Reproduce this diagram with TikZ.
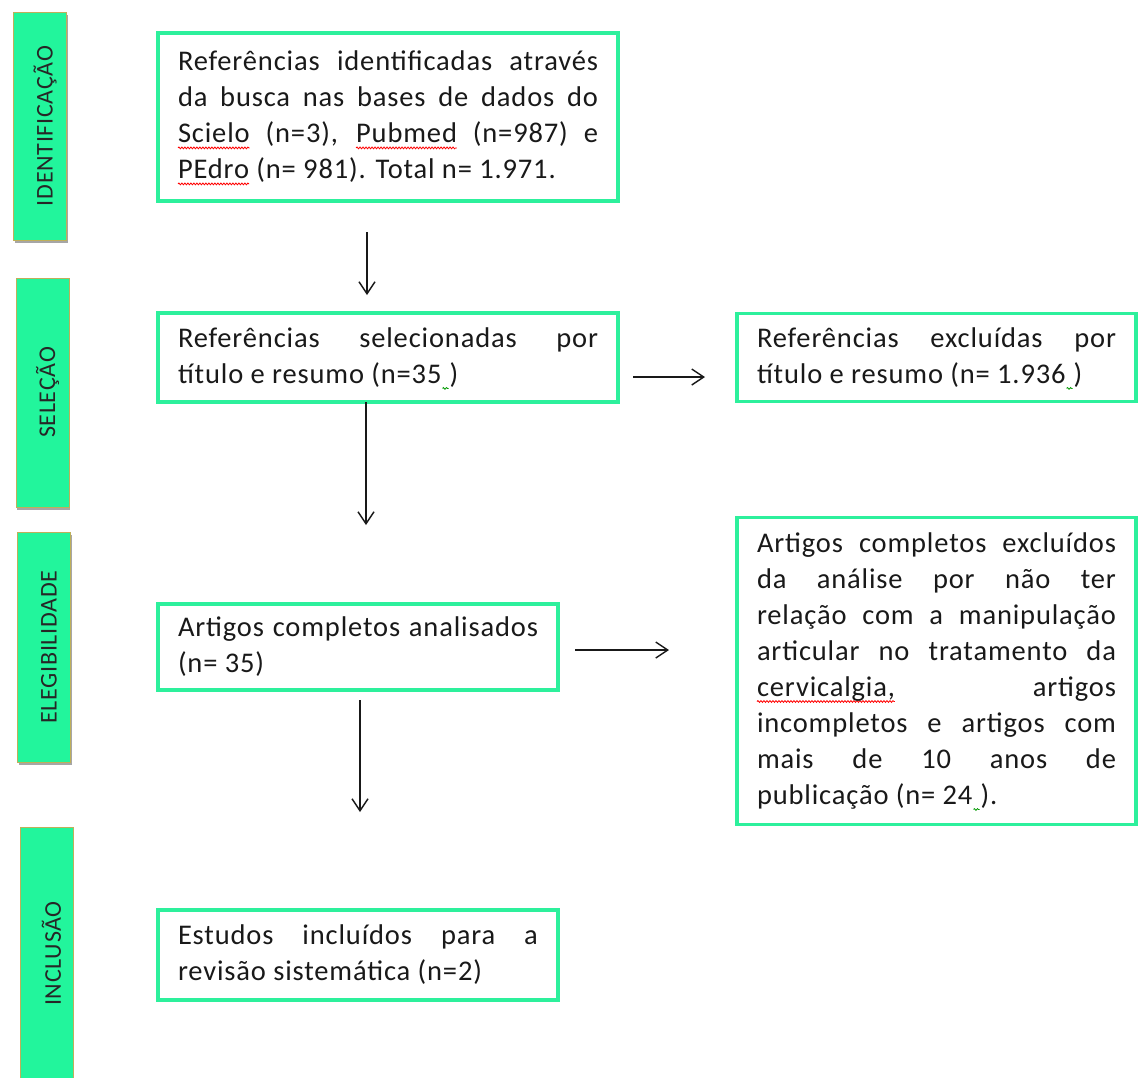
\documentclass[tikz,border=0pt]{standalone}
\usepackage{fontspec}
\setmainfont{Carlito}[LetterSpace=3]
\usepackage{tikz}
\usetikzlibrary{arrows.meta,positioning,shadows,decorations.pathmorphing}

\definecolor{barfill}{HTML}{22F59C}
\definecolor{baredge}{HTML}{BFAF5A}
\definecolor{boxedge}{HTML}{2DF09C}

\tikzset{wavy/.style={line width=0.8pt, decorate, decoration={snake, amplitude=0.9pt, segment length=3pt}}}

\newsavebox\wavebox
\newcommand{\redwave}[1]{\sbox\wavebox{#1}\rlap{\tikz[overlay,baseline=0pt]\draw[wavy,red] (0pt,-5pt) -- (\the\wd\wavebox,-5pt);}\usebox\wavebox}
\newcommand{\greenwave}{\rlap{\tikz[overlay,baseline=0pt]\draw[wavy,green!60!black] (1pt,-5pt) -- (7pt,-5pt);}\hspace*{8pt}}

\begin{document}
\begin{tikzpicture}[x=1pt, y=-1pt,
  box/.style={rectangle, draw=boxedge, line width=3.8pt, fill=white, text width=420pt, align=justify, inner xsep=20pt, inner ysep=6pt, outer sep=0pt, font=\fontsize{28.5pt}{36pt}\selectfont, text=black!90},
  bar/.style={rectangle, fill=barfill, draw=baredge, line width=1pt, minimum width=53pt, drop shadow={shadow xshift=1pt, shadow yshift=-3pt, fill=black, opacity=0.35}},
  tag/.style={rotate=90, font=\fontsize{24pt}{28pt}\selectfont, text=black!85, inner sep=0pt},
  arr/.style={-{Straight Barb[length=12pt,width=16pt,line width=1.4pt]}, line width=1.4pt, black!90}]
  \fill[white] (0,0) rectangle (1140,1077);
  \useasboundingbox (0,0) rectangle (1140,1077);

  % phase bars
  \node[bar, minimum height=228pt] (barid) at (40,126) {};
  \node[tag] at ([xshift=5pt]barid.center) {IDENTIFICAÇÃO};
  \node[bar, minimum height=229pt] (barsel) at (42.5,392.5) {};
  \node[tag] at ([xshift=5pt]barsel.center) {SELEÇÃO};
  \node[bar, minimum height=230pt] (bareleg) at (44,647) {};
  \node[tag] at ([xshift=5pt]bareleg.center) {ELEGIBILIDADE};
  \node[bar, minimum height=253pt] (barincl) at (46.5,953.5) {};
  \node[tag] at ([xshift=5pt]barincl.center) {INCLUSÃO};

  % boxes
  \node[box, minimum height=168pt, anchor=north west] (busca) at (158,33) {Referências identificadas através\linebreak da busca nas bases de dados do\linebreak \redwave{Scielo} (n=3), \redwave{Pubmed} (n=987) e\linebreak \redwave{PEdro} (n= 981). Total n= 1.971.};
  \node[box, minimum height=89pt, below=112pt of busca] (selec) {Referências selecionadas por\linebreak título e resumo (n=35\greenwave)};
  \node[box, text width=359pt, minimum height=88pt, right=119pt of selec] (excl) {Referências excluídas por\linebreak título e resumo (n= 1.936\greenwave)};
  \node[box, text width=360pt, minimum height=86pt, below=202pt of selec.south west, anchor=north west] (artigos) {Artigos completos analisados\linebreak (n= 35)};
  \node[box, text width=359pt, minimum height=307pt, below=116pt of excl.south west, anchor=north west] (artexcl) {Artigos completos excluídos\linebreak da análise por não ter\linebreak relação com a manipulação\linebreak articular no tratamento da\linebreak \redwave{cervicalgia,} artigos\linebreak incompletos e artigos com\linebreak mais de 10 anos de\linebreak publicação (n= 24\greenwave).};
  \node[box, text width=360pt, minimum height=90pt, below=220pt of artigos] (incl) {Estudos incluídos para a\linebreak revisão sistemática (n=2)};

  % arrows
  \draw[arr, shorten <=31pt, shorten >=18pt] ([xshift=-21pt]busca.south) -- ([xshift=-21pt]selec.north);
  \draw[arr, shorten >=79pt] ([xshift=-22pt]selec.south) -- ([xshift=-22pt]selec.south |- artigos.north);
  \draw[arr, shorten <=10pt, shorten >=98pt] ([xshift=2pt]artigos.south) -- ([xshift=2pt]incl.north);
  \draw[arr, shorten <=15pt, shorten >=32pt] ([yshift=-19.5pt]selec.east) -- ([yshift=-19.5pt]selec.east -| excl.west);
  \draw[arr, shorten <=17pt, shorten >=68pt] ([yshift=-3pt]artigos.east) -- ([yshift=-3pt]artigos.east -| artexcl.west);
\end{tikzpicture}
\end{document}
